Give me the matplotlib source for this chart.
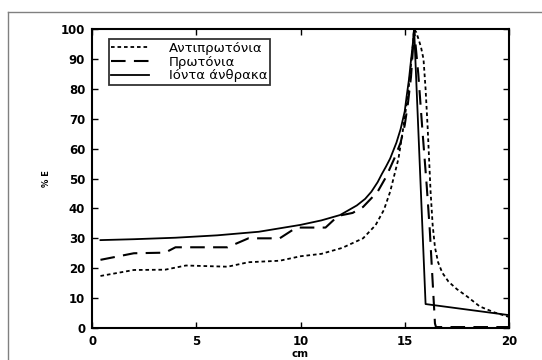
import matplotlib
matplotlib.use("Agg")
import matplotlib.pyplot as plt
from matplotlib.lines import Line2D

# carbon ions (solid)
x_carbon = [0.4, 2, 4, 6, 8, 10, 11, 11.9, 12.7, 13.1, 13.4, 13.7, 13.9, 14.1, 14.3, 14.6, 14.8, 15.0, 15.1, 15.2, 15.3, 15.38, 15.45, 16.0, 20]
y_carbon = [29.4, 29.7, 30.2, 31.0, 32.2, 34.5, 36.0, 37.8, 41.0, 43.2, 45.6, 48.8, 51.5, 54.0, 56.7, 62.0, 66.5, 72.5, 78.0, 83.0, 89.5, 94.5, 100, 8.0, 4.3]

# protons (dashed)
x_proton = [0.4, 2.0, 3.5, 4.0, 6.5, 7.5, 9.0, 9.8, 11.2, 11.8, 12.5, 13.0, 13.7, 14.1, 14.5, 14.8, 15.0, 15.15, 15.3, 15.38, 15.45,
            15.65, 15.85, 16.05, 16.2, 16.45, 16.5, 20]
y_proton = [22.8, 25.0, 25.2, 27.0, 27.0, 30.0, 30.0, 33.6, 33.6, 37.5, 38.5, 40.5, 45.6, 50.5, 56.7, 62.0, 67.9, 75.0, 84.0, 92.0, 100,
            85.0, 66.0, 48.0, 33.0, 1.5, 0.3, 0.3]

# antiprotons (dotted)
x_anti = [0.4, 2.0, 3.5, 4.5, 6.5, 7.5, 9.0, 10.0, 11.0, 12.0, 13.0, 13.6, 14.0, 14.3, 14.7, 14.95, 15.17, 15.33, 15.4, 15.45,
          15.55, 15.65, 15.78, 15.9, 16.0, 16.1, 16.24, 16.34, 16.45, 16.6, 16.8, 17.1, 17.5, 18.0, 18.6, 19.3, 20.0]
y_anti = [17.4, 19.4, 19.5, 20.9, 20.5, 22.0, 22.5, 24.0, 24.8, 26.8, 30.0, 34.4, 39.5, 45.6, 56.7, 67.9, 79.0, 90.2, 95.5, 100,
          99.0, 96.9, 94.0, 90.0, 80.0, 67.0, 45.6, 34.4, 27.0, 22.0, 18.5, 15.5, 13.0, 10.5, 7.2, 5.2, 3.7]

labels = ["Αντιπρωτόνια", "Πρωτόνια", "Ιόντα άνθρακα"]

fig = plt.figure(figsize=(5.42, 3.6), dpi=100)
ax = fig.add_axes([0.170, 0.089, 0.769, 0.830])

ax.plot(x_anti, y_anti, color="black", lw=1.3, linestyle=(0, (2, 1.6)), label=labels[0])
ax.plot(x_proton, y_proton, color="black", lw=1.5, linestyle=(0, (7, 4)), label=labels[1], clip_on=False)
ax.plot(x_carbon, y_carbon, color="black", lw=1.3, label=labels[2])

ax.set_xlim(0, 20)
ax.set_ylim(0, 100)
ax.set_xticks([0, 5, 10, 15, 20])
ax.set_yticks(range(0, 101, 10))
ax.tick_params(direction="in", top=True, right=True, length=4, width=1, labelsize=8.5, pad=5)
for lab in ax.get_xticklabels() + ax.get_yticklabels():
    lab.set_fontweight("bold")
for s in ax.spines.values():
    s.set_linewidth(1.5)

ax.set_xlabel("cm", fontsize=7.5, fontweight="bold", labelpad=1)
ax.set_ylabel("% E", fontsize=6, fontweight="bold", labelpad=7)

leg = ax.legend(loc="upper left", bbox_to_anchor=(0.033, 0.975), fontsize=9.5, frameon=True, fancybox=False,
                handlelength=2.9, borderpad=0.2, labelspacing=0.05, handletextpad=1.5, borderaxespad=0.2)
leg.get_frame().set_edgecolor("black")
leg.get_frame().set_linewidth(1.3)

# scanned page border
fig.add_artist(Line2D([8 / 542, 1], [1 - 12 / 360, 1 - 12 / 360], color="gray", lw=1))
fig.add_artist(Line2D([8 / 542, 8 / 542], [0, 1 - 12 / 360], color="gray", lw=1))

fig.savefig("out.png", dpi=100)
